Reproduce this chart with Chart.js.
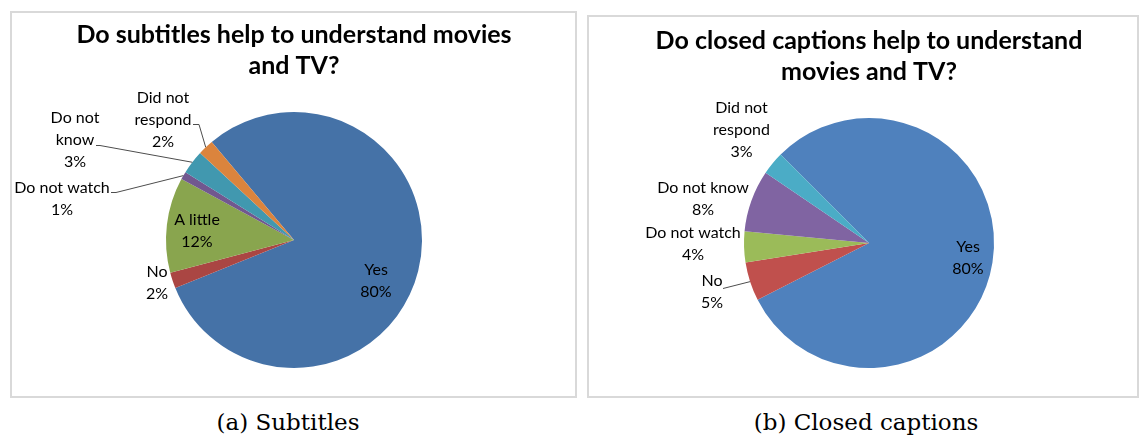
<!DOCTYPE html>
<html lang="en">
<head>
<meta charset="UTF-8">
<title>Subtitles and closed captions survey</title>
<script src="https://cdn.jsdelivr.net/npm/chart.js"></script>
<style>
    body { margin: 0; background: #fff; }
    .page { position: relative; width: 1144px; height: 437px; overflow: hidden; }
    .panel { position: absolute; box-sizing: border-box; border: 2px solid #d9d9d9; }
    canvas { position: absolute; top: 0; }
    .caption {
        position: absolute; top: 407px; height: 30px; line-height: 30px;
        font-family: 'DejaVu Serif', serif; font-size: 23px; color: #000; text-align: center;
    }
</style>
</head>
<body>
<div class="page">
    <div class="panel" style="left:10px; top:11px; width:567px; height:387px;"></div>
    <div class="panel" style="left:587px; top:15px; width:552px; height:383px;"></div>
    <canvas id="subtitlesChart" width="572" height="400" style="left:0;"></canvas>
    <canvas id="captionsChart" width="572" height="400" style="left:572px;"></canvas>
    <div class="caption" style="left:0; width:576px;">(a) Subtitles</div>
    <div class="caption" style="left:576px; width:580px;">(b) Closed captions</div>
</div>

<script>
    // Answers in percent
    const subtitleCategories = ['Yes', 'No', 'A little', 'Do not watch', 'Do not know', 'Did not respond'];
    const subtitleValues = [80, 2, 12, 1, 3, 2];

    const captionCategories = ['Yes', 'No', 'Do not watch', 'Do not know', 'Did not respond'];
    const captionValues = [80, 5, 4, 8, 3];

    const subtitleColors = ['#4572A7', '#AA4643', '#89A54E', '#71588F', '#4198AF', '#DB843D'];
    const captionColors = ['#4F81BD', '#C0504D', '#9BBB59', '#8064A2', '#4BACC6'];

    // Label spots, relative to the pie centre (px). leader = points of the callout line,
    // the last segment always runs to the middle of the slice's rim.
    const subtitleSpots = [
        { at: [82, 40.5] },
        { at: [-137, 43] },
        { at: [-97, -9] },
        { at: [-232, -41], leader: [[-183, -48], [-178, -48]] },
        { at: [-219, -100.5], wrap: 70, leader: [[-198, -95], [-194, -95]] },
        { at: [-131, -120.5], wrap: 70, leader: [[-101, -116], [-95, -116]] }
    ];
    const captionSpots = [
        { at: [99, 14.5] },
        { at: [-157, 49], leader: [[-146, 45]] },
        { at: [-176, 1] },
        { at: [-166, -44] },
        { at: [-127.5, -113], wrap: 70 }
    ];

    function wrapWords(ctx, text, maxWidth) {
        const words = text.split(' ');
        const lines = [];
        let line = words[0];
        for (let i = 1; i < words.length; i++) {
            const test = line + ' ' + words[i];
            if (ctx.measureText(test).width > maxWidth) {
                lines.push(line);
                line = words[i];
            } else {
                line = test;
            }
        }
        lines.push(line);
        return lines;
    }

    // Draws "name / value%" for each slice plus callout lines
    function sliceLabels(spots) {
        return {
            id: 'sliceLabels',
            afterDatasetsDraw(chart) {
                const ctx = chart.ctx;
                const arcs = chart.getDatasetMeta(0).data;
                const values = chart.data.datasets[0].data;
                const cx = arcs[0].x, cy = arcs[0].y;
                const lineHeight = 22;

                ctx.save();
                ctx.strokeStyle = '#4d4d4d';
                ctx.lineWidth = 1;
                spots.forEach((spot, i) => {
                    if (!spot.leader) return;
                    const a = arcs[i];
                    const mid = (a.startAngle + a.endAngle) / 2;
                    ctx.beginPath();
                    spot.leader.forEach(([dx, dy], k) => {
                        if (k === 0) ctx.moveTo(cx + dx, cy + dy + 0.5);
                        else ctx.lineTo(cx + dx, cy + dy + 0.5);
                    });
                    ctx.lineTo(a.x + Math.cos(mid) * a.outerRadius, a.y + Math.sin(mid) * a.outerRadius);
                    ctx.stroke();
                });

                ctx.font = '16px Lato';
                ctx.fillStyle = '#000';
                ctx.textAlign = 'center';
                ctx.textBaseline = 'middle';
                spots.forEach((spot, i) => {
                    const lines = wrapWords(ctx, chart.data.labels[i], spot.wrap || Infinity);
                    lines.push(values[i] + '%');
                    const top = cy + spot.at[1] - (lines.length - 1) * lineHeight / 2;
                    lines.forEach((t, k) => ctx.fillText(t, cx + spot.at[0], top + k * lineHeight));
                });
                ctx.restore();
            }
        };
    }

    function makePie(id, categories, values, colors, opts) {
        return new Chart(document.getElementById(id), {
            type: 'pie',
            data: {
                labels: categories,
                datasets: [{ data: values, backgroundColor: colors, borderWidth: 0, hoverOffset: 0 }]
            },
            options: {
                responsive: false,
                animation: false,
                events: [],
                radius: opts.radius,
                rotation: opts.rotation,
                layout: { padding: opts.padding },
                plugins: {
                    legend: { display: false },
                    tooltip: { enabled: false },
                    title: {
                        display: true,
                        text: opts.title,
                        color: '#000',
                        font: { family: 'Lato', size: 25, weight: 'bold', lineHeight: 1.25 },
                        padding: opts.titlePadding
                    }
                }
            },
            plugins: [sliceLabels(opts.spots)]
        });
    }

    makePie('subtitlesChart', subtitleCategories, subtitleValues, subtitleColors, {
        title: ['Do subtitles help to understand movies', 'and TV?'],
        titlePadding: { top: 19, bottom: 0 },
        padding: { left: 16, right: 0, top: 0, bottom: 1.5 },
        radius: 128,
        rotation: -40,
        spots: subtitleSpots
    });

    makePie('captionsChart', captionCategories, captionValues, captionColors, {
        title: ['Do closed captions help to understand', 'movies and TV?'],
        titlePadding: { top: 25, bottom: 0 },
        padding: { left: 22, right: 0, top: 0, bottom: 1.5 },
        radius: 125,
        rotation: -45,
        spots: captionSpots
    });
</script>
</body>
</html>
